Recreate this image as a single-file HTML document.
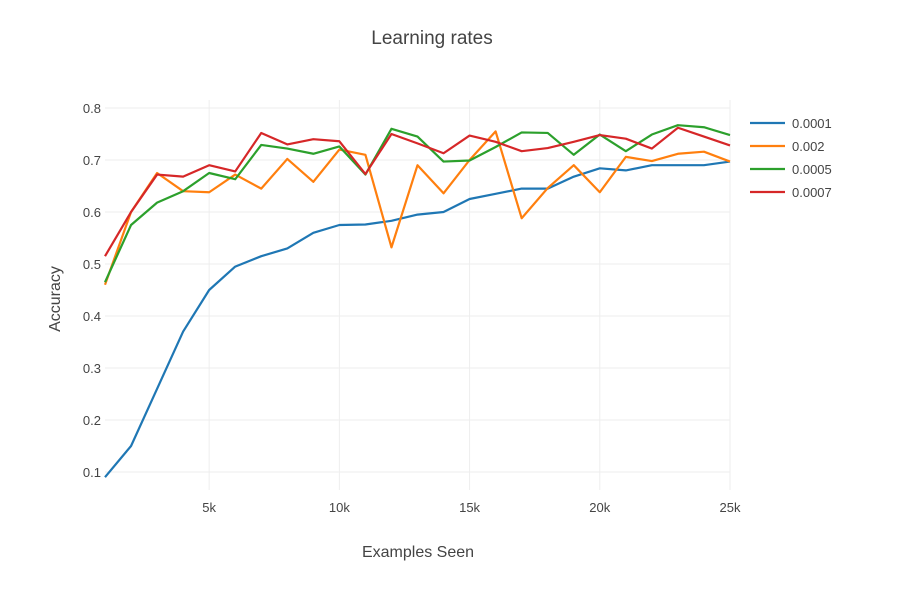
<!DOCTYPE html>
<html><head><meta charset="utf-8"><style>
body{margin:0;background:#fff}
text{font-family:"Liberation Sans",sans-serif;fill:#444}
</style></head><body>
<svg id="chart" width="912" height="595" xmlns="http://www.w3.org/2000/svg">
<text x="432" y="44" text-anchor="middle" font-size="19">Learning rates</text>
<g id="grid"></g><g id="series"></g><g id="legend"></g>
<text x="418" y="557" text-anchor="middle" font-size="16">Examples Seen</text>
<text transform="translate(60,299) rotate(-90)" text-anchor="middle" font-size="16">Accuracy</text>
</svg>
<script>
const xs=[1000,2000,3000,4000,5000,6000,7000,8000,9000,10000,11000,12000,13000,14000,15000,16000,17000,18000,19000,20000,21000,22000,23000,24000,25000];
const seriesNames=["0.0001","0.002","0.0005","0.0007"];
const s1=[0.09,0.15,0.26,0.37,0.45,0.495,0.515,0.53,0.56,0.575,0.576,0.583,0.595,0.60,0.625,0.635,0.645,0.645,0.668,0.684,0.68,0.69,0.69,0.69,0.697];
const s2=[0.46,0.60,0.675,0.64,0.638,0.672,0.645,0.702,0.658,0.72,0.71,0.532,0.69,0.636,0.70,0.755,0.588,0.646,0.69,0.638,0.706,0.698,0.712,0.716,0.697];
const s3=[0.465,0.575,0.618,0.64,0.675,0.663,0.729,0.722,0.712,0.726,0.672,0.76,0.745,0.697,0.699,0.725,0.753,0.752,0.71,0.749,0.717,0.749,0.767,0.763,0.748];
const s4=[0.515,0.60,0.672,0.668,0.69,0.678,0.752,0.73,0.74,0.736,0.673,0.75,0.732,0.713,0.747,0.735,0.717,0.723,0.735,0.748,0.741,0.722,0.762,0.745,0.728];
const xTicks=[5000,10000,15000,20000,25000];
const xTickLabels=["5k","10k","15k","20k","25k"];
const yTicks=[0.1,0.2,0.3,0.4,0.5,0.6,0.7,0.8];
const colors=["#1f77b4","#ff7f0e","#2ca02c","#d62728"];
const NS="http://www.w3.org/2000/svg";
const L=105,R=730,T=100,B=490;
const xS=v=>L+(v-1000)/24000*(R-L);
const yS=v=>108+(0.8-v)*520;
function mk(tag,attrs,parent){const e=document.createElementNS(NS,tag);for(const k in attrs)e.setAttribute(k,attrs[k]);parent.appendChild(e);return e;}
const grid=document.getElementById('grid');
yTicks.forEach(v=>{
  const l=mk('line',{x1:L,x2:R,y1:yS(v),y2:yS(v),stroke:'#eee','stroke-width':1},grid);
  
  
  const t=mk('text',{x:L-4,y:yS(v)+5,'text-anchor':'end','font-size':13},grid);
  
  
  t.textContent=v.toFixed(1);
});
xTicks.forEach((v,i)=>{
  const l=mk('line',{x1:xS(v),x2:xS(v),y1:T,y2:B,stroke:'#eee','stroke-width':1},grid);
  
  
  const t=mk('text',{x:xS(v),y:512,'text-anchor':'middle','font-size':13},grid);
  
  
  t.textContent=xTickLabels[i];
});
const sg=document.getElementById('series'),lg=document.getElementById('legend');
[s1,s2,s3,s4].forEach((s,i)=>{
  const p=mk('polyline',{points:s.map((v,j)=>xS(xs[j])+','+yS(v)).join(' '),fill:'none',stroke:colors[i],'stroke-width':2.2,'stroke-linejoin':'round'},sg);
  
  
  const y=123+i*23;
  const g=mk('g',{},lg);
  
  
  mk('line',{x1:750,x2:785,y1:y,y2:y,stroke:colors[i],'stroke-width':2.2},g);
  const t=mk('text',{x:792,y:y+5,'font-size':13},g);
  t.textContent=seriesNames[i];
});
</script>
</body></html>
